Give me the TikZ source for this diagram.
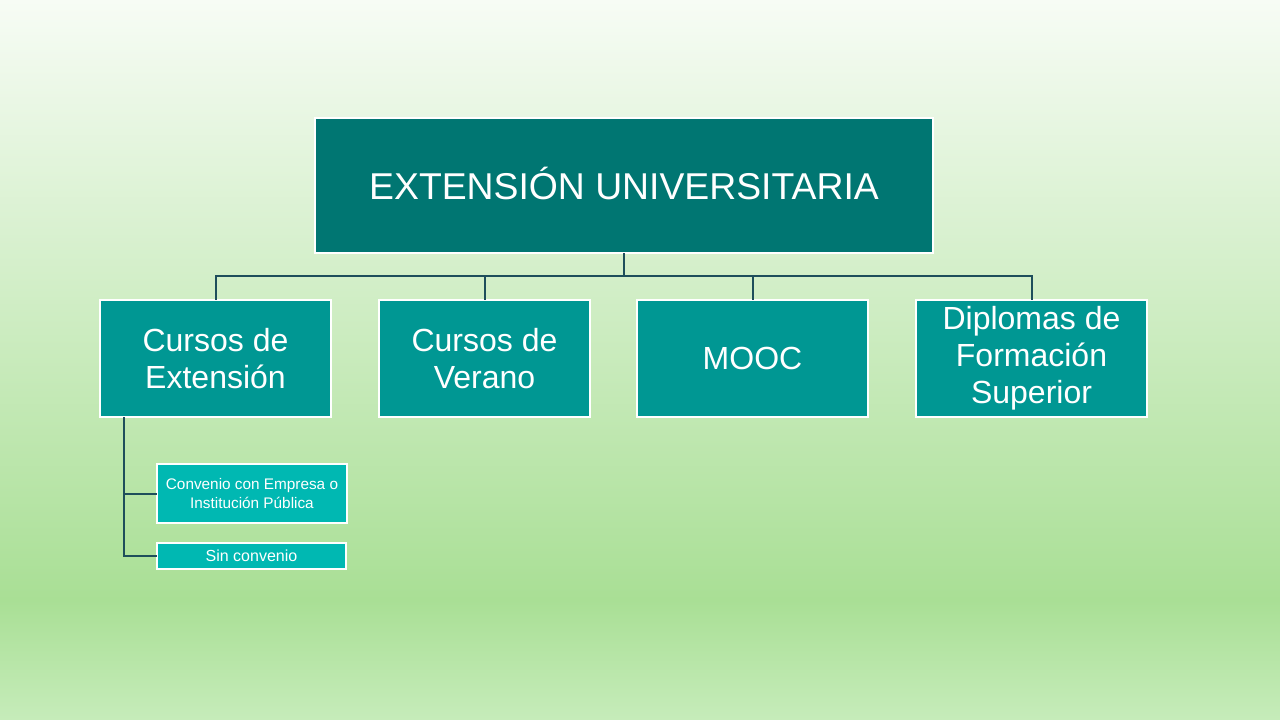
\documentclass[tikz,border=0pt]{standalone}
\usepackage{fontspec}
\setmainfont{Liberation Sans}
\usetikzlibrary{calc}
\definecolor{bgtop}{HTML}{F7FCF5}
\definecolor{bgmid}{HTML}{A9DF95}
\definecolor{bgbot}{HTML}{C6ECBA}
\definecolor{topfill}{HTML}{007672}
\definecolor{midfill}{HTML}{009793}
\definecolor{smallfill}{HTML}{00B8B2}
\definecolor{linecol}{HTML}{1E4E5B}
\tikzset{
  box/.style={draw=white, line width=1.5pt, text=white, inner sep=0pt, outer sep=0pt, align=center},
  topbox/.style={box, fill=topfill, minimum width=463.5pt, minimum height=101.25pt, font=\fontsize{28}{32}\selectfont},
  midbox/.style={box, fill=midfill, minimum height=87.75pt, font=\fontsize{24}{27.8}\selectfont},
  smallbox/.style={box, fill=smallfill, font=\fontsize{11.5}{14}\selectfont},
  conn/.style={draw=linecol, line width=1.5pt}
}
\begin{document}
\begin{tikzpicture}[x=0.75pt, y=-0.75pt]
\useasboundingbox (0,0) rectangle (1280,720);
\shade[top color=bgtop, bottom color=bgmid] (0,0) rectangle (1280,600);
\shade[top color=bgmid, bottom color=bgbot] (0,600) rectangle (1280,720);

\node[topbox] (top) at (624,185.5) {\raisebox{3.5pt}{EXTENSIÓN UNIVERSITARIA}};

\node[midbox, minimum width=173.25pt] (c1) at (215.5,358.5) {Cursos de\\Extensión};
\node[midbox, minimum width=158.25pt] (c2) at (484.5,358.5) {Cursos de\\Verano};
\node[midbox, minimum width=173.25pt] (c3) at (752.5,358.5) {MOOC};
\node[midbox, minimum width=173.25pt] (c4) at (1031.5,358.5) {Diplomas de\\Formación\\Superior};

\node[smallbox, minimum width=142.5pt, minimum height=44.25pt] (s1) at (252,493.5) {Convenio con Empresa o\\Institución Pública};
\node[smallbox, minimum width=141.75pt, minimum height=19.5pt, font=\fontsize{12}{14}\selectfont] (s2) at (251.5,556) {Sin convenio};

\coordinate (bus) at ($(top.south)+(0,23)$);
\draw[conn] (top.south) -- (bus);
\draw[conn] (bus) -| (c1.north);
\draw[conn] (bus) -| (c2.north);
\draw[conn] (bus) -| (c3.north);
\draw[conn] (bus) -| (c4.north);

\coordinate (trunk) at ($(c1.south west)+(24,0)$);
\draw[conn] (trunk) |- (s1.west);
\draw[conn] (trunk) |- (s2.west);
\end{tikzpicture}
\end{document}
